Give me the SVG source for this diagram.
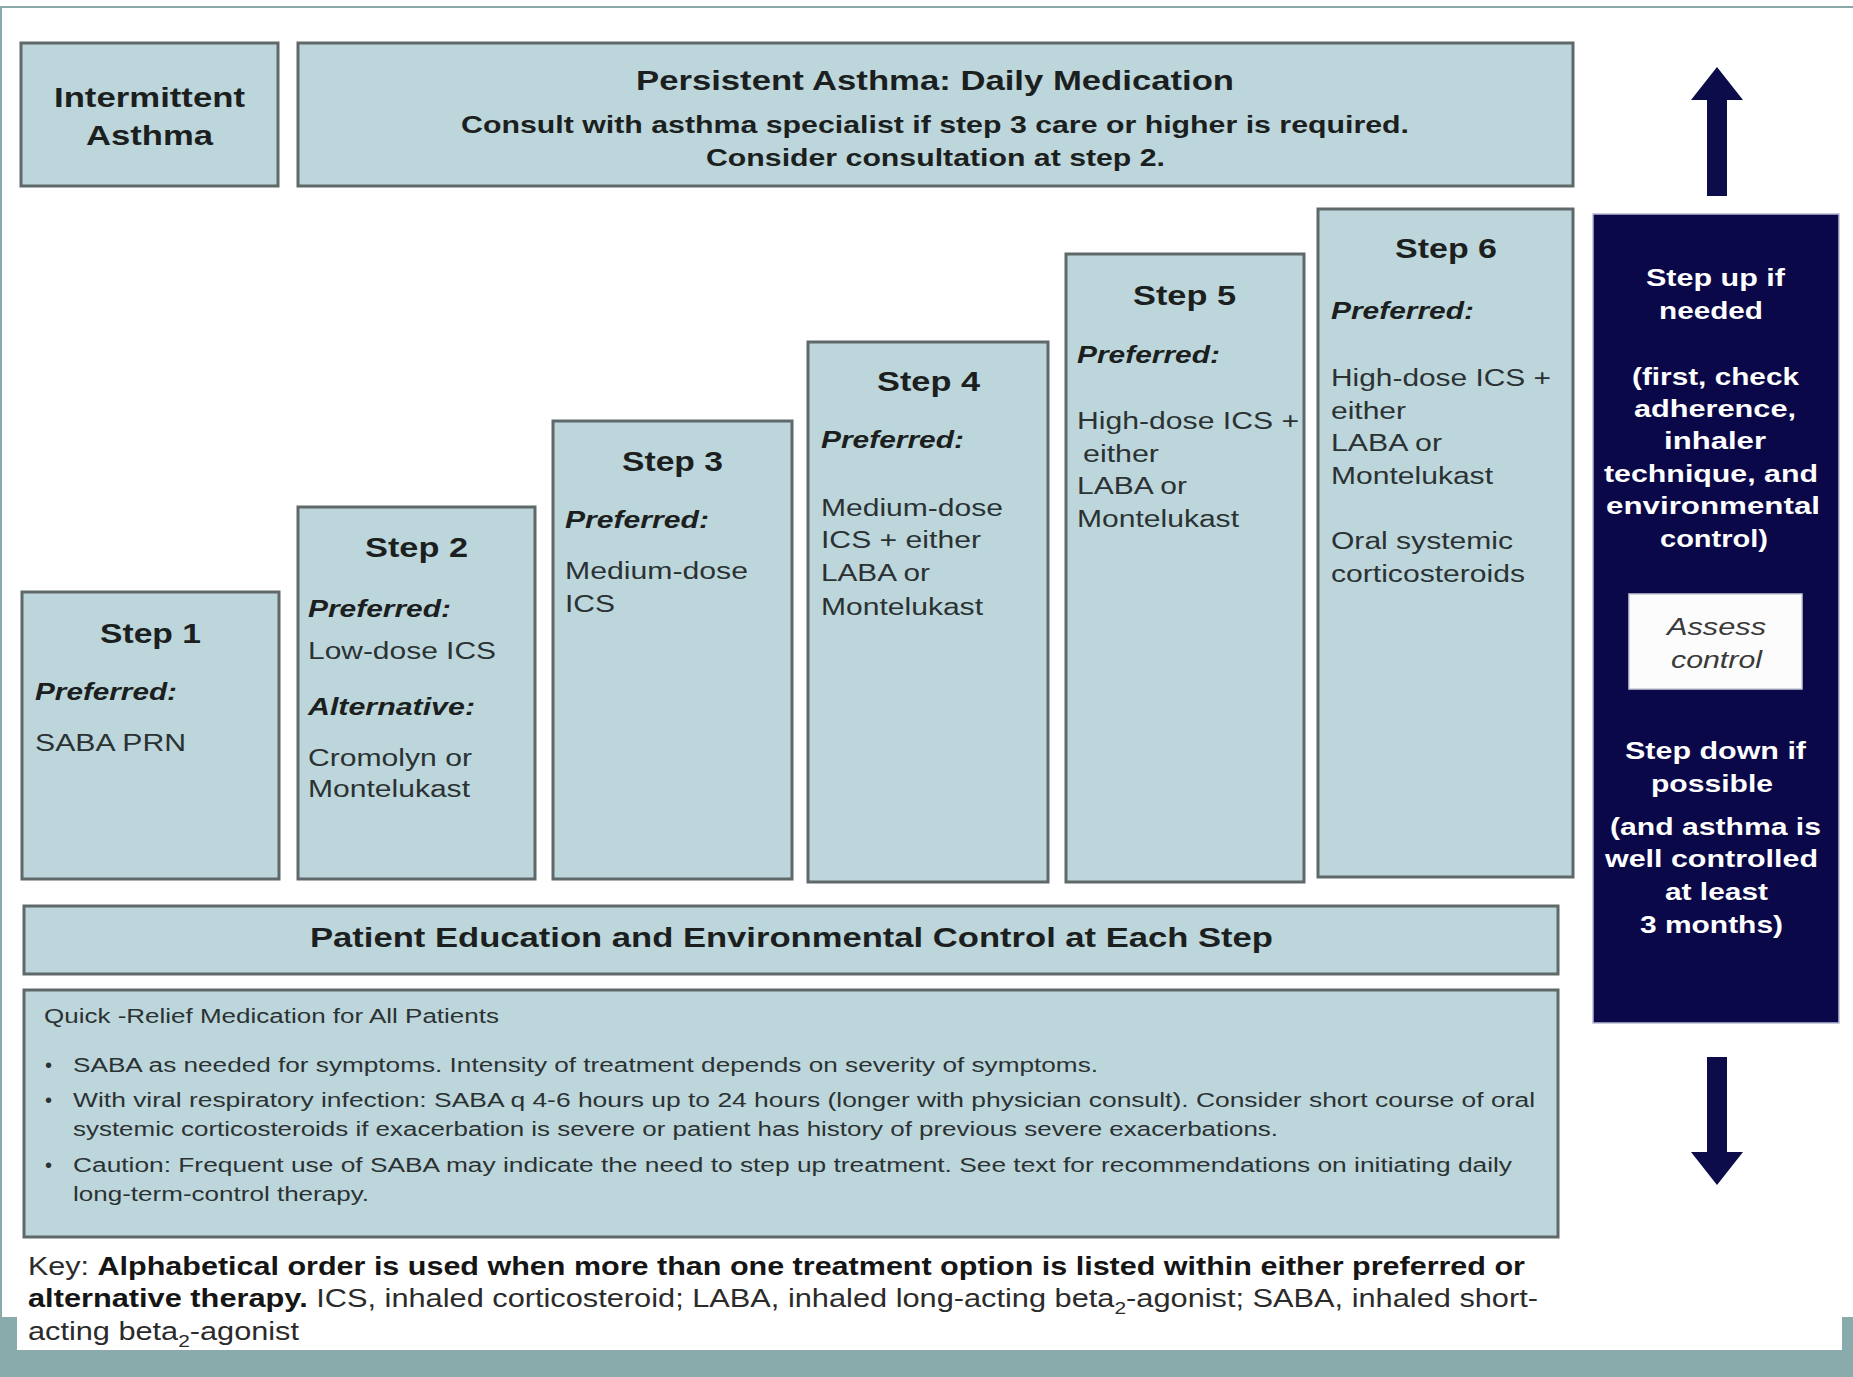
<svg xmlns="http://www.w3.org/2000/svg" width="1853" height="1377" viewBox="0 0 1853 1377">
<style>
text{font-family:"Liberation Sans",Arial,Helvetica,sans-serif;}
.box{fill:#bdd6db;stroke:#5f696a;stroke-width:3;}
.ttl{font-size:27px;font-weight:bold;fill:#1c1f20;}
.sub{font-size:23px;font-weight:bold;fill:#1c1f20;}
.step{font-size:28px;font-weight:bold;fill:#1c1f20;}
.pref{font-size:23px;font-weight:bold;font-style:italic;fill:#1c1f20;}
.body{font-size:23px;fill:#2b3233;}
.qr{font-size:20px;fill:#2b3233;}
.key{font-size:25px;fill:#2b2b2b;}
.nav{font-size:24px;font-weight:bold;fill:#ffffff;}
.asc{font-size:23px;font-style:italic;fill:#3a3a3a;}
.arrow{fill:#0d0c4a;}
</style>
<rect x="0" y="0" width="1853" height="1377" fill="#ffffff"/>
<g id="frame">
<rect x="1" y="7" width="1860" height="1400" fill="none" stroke="#8aa9a9" stroke-width="2"/>
<rect x="0" y="1317" width="17" height="60" fill="#8aabab"/>
<rect x="1842" y="1317" width="11" height="60" fill="#8aabab"/>
<rect x="0" y="1350" width="1853" height="27" fill="#8aabab"/>
</g>

<g id="intermittent">
<rect class="box" x="21" y="43" width="257" height="143"/>
<text class="ttl" x="54" y="107" textLength="191" lengthAdjust="spacingAndGlyphs">Intermittent</text>
<text class="ttl" x="86" y="145" textLength="127" lengthAdjust="spacingAndGlyphs">Asthma</text>
</g>

<g id="persistent">
<rect class="box" x="298" y="43" width="1275" height="143"/>
<text class="ttl" x="636" y="90" textLength="598" lengthAdjust="spacingAndGlyphs">Persistent Asthma: Daily Medication</text>
<text class="sub" x="461" y="133" textLength="948" lengthAdjust="spacingAndGlyphs">Consult with asthma specialist if step 3 care or higher is required.</text>
<text class="sub" x="706" y="166" textLength="459" lengthAdjust="spacingAndGlyphs">Consider consultation at step 2.</text>
</g>

<g id="step1">
<rect class="box" x="22" y="592" width="257" height="287"/>
<text class="step" x="100" y="643" textLength="101" lengthAdjust="spacingAndGlyphs">Step 1</text>
<text class="pref" x="35" y="700" textLength="142" lengthAdjust="spacingAndGlyphs">Preferred:</text>
<text class="body" x="35" y="751" textLength="151" lengthAdjust="spacingAndGlyphs">SABA PRN</text>
</g>

<g id="step2">
<rect class="box" x="298" y="507" width="237" height="372"/>
<text class="step" x="365" y="557" textLength="103" lengthAdjust="spacingAndGlyphs">Step 2</text>
<text class="pref" x="308" y="617" textLength="143" lengthAdjust="spacingAndGlyphs">Preferred:</text>
<text class="body" x="308" y="659" textLength="188" lengthAdjust="spacingAndGlyphs">Low-dose ICS</text>
<text class="pref" x="308" y="715" textLength="167" lengthAdjust="spacingAndGlyphs">Alternative:</text>
<text class="body" x="308" y="766" textLength="164" lengthAdjust="spacingAndGlyphs">Cromolyn or</text>
<text class="body" x="308" y="797" textLength="162" lengthAdjust="spacingAndGlyphs">Montelukast</text>
</g>

<g id="step3">
<rect class="box" x="553" y="421" width="239" height="458"/>
<text class="step" x="622" y="471" textLength="101" lengthAdjust="spacingAndGlyphs">Step 3</text>
<text class="pref" x="565" y="528" textLength="144" lengthAdjust="spacingAndGlyphs">Preferred:</text>
<text class="body" x="565" y="579" textLength="183" lengthAdjust="spacingAndGlyphs">Medium-dose</text>
<text class="body" x="565" y="612" textLength="50" lengthAdjust="spacingAndGlyphs">ICS</text>
</g>

<g id="step4">
<rect class="box" x="808" y="342" width="240" height="540"/>
<text class="step" x="877" y="391" textLength="103" lengthAdjust="spacingAndGlyphs">Step 4</text>
<text class="pref" x="821" y="448" textLength="143" lengthAdjust="spacingAndGlyphs">Preferred:</text>
<text class="body" x="821" y="516" textLength="182" lengthAdjust="spacingAndGlyphs">Medium-dose</text>
<text class="body" x="821" y="548" textLength="160" lengthAdjust="spacingAndGlyphs">ICS + either</text>
<text class="body" x="821" y="581" textLength="109" lengthAdjust="spacingAndGlyphs">LABA or</text>
<text class="body" x="821" y="615" textLength="162" lengthAdjust="spacingAndGlyphs">Montelukast</text>
</g>

<g id="step5">
<rect class="box" x="1066" y="254" width="238" height="628"/>
<text class="step" x="1133" y="305" textLength="103" lengthAdjust="spacingAndGlyphs">Step 5</text>
<text class="pref" x="1077" y="363" textLength="143" lengthAdjust="spacingAndGlyphs">Preferred:</text>
<text class="body" x="1077" y="429" textLength="222" lengthAdjust="spacingAndGlyphs">High-dose ICS +</text>
<text class="body" x="1083" y="462" textLength="76" lengthAdjust="spacingAndGlyphs">either</text>
<text class="body" x="1077" y="494" textLength="110" lengthAdjust="spacingAndGlyphs">LABA or</text>
<text class="body" x="1077" y="527" textLength="162" lengthAdjust="spacingAndGlyphs">Montelukast</text>
</g>

<g id="step6">
<rect class="box" x="1318" y="209" width="255" height="668"/>
<text class="step" x="1395" y="258" textLength="102" lengthAdjust="spacingAndGlyphs">Step 6</text>
<text class="pref" x="1331" y="319" textLength="143" lengthAdjust="spacingAndGlyphs">Preferred:</text>
<text class="body" x="1331" y="386" textLength="220" lengthAdjust="spacingAndGlyphs">High-dose ICS +</text>
<text class="body" x="1331" y="419" textLength="75" lengthAdjust="spacingAndGlyphs">either</text>
<text class="body" x="1331" y="451" textLength="111" lengthAdjust="spacingAndGlyphs">LABA or</text>
<text class="body" x="1331" y="484" textLength="162" lengthAdjust="spacingAndGlyphs">Montelukast</text>
<text class="body" x="1331" y="549" textLength="182" lengthAdjust="spacingAndGlyphs">Oral systemic</text>
<text class="body" x="1331" y="582" textLength="194" lengthAdjust="spacingAndGlyphs">corticosteroids</text>
</g>

<g id="education">
<rect class="box" x="24" y="906" width="1534" height="68"/>
<text class="ttl" x="310" y="947" textLength="963" lengthAdjust="spacingAndGlyphs">Patient Education and Environmental Control at Each Step</text>
</g>

<g id="quick-relief">
<rect class="box" x="24" y="990" width="1534" height="247"/>
<text class="qr" x="44" y="1023" textLength="455" lengthAdjust="spacingAndGlyphs">Quick -Relief Medication for All Patients</text>
<text class="qr" x="45" y="1072">•</text>
<text class="qr" x="73" y="1072" textLength="1025" lengthAdjust="spacingAndGlyphs">SABA as needed for symptoms.  Intensity of treatment depends on severity of symptoms.</text>
<text class="qr" x="45" y="1107">•</text>
<text class="qr" x="73" y="1107" textLength="1462" lengthAdjust="spacingAndGlyphs">With viral respiratory infection:  SABA q 4-6  hours up to 24 hours (longer with physician consult).  Consider short course of oral</text>
<text class="qr" x="73" y="1136" textLength="1205" lengthAdjust="spacingAndGlyphs">systemic corticosteroids if exacerbation is severe or patient has history of previous severe exacerbations.</text>
<text class="qr" x="45" y="1172">•</text>
<text class="qr" x="73" y="1172" textLength="1439" lengthAdjust="spacingAndGlyphs">Caution:  Frequent use of SABA may indicate the need to step up treatment.  See text for recommendations on initiating daily</text>
<text class="qr" x="73" y="1201" textLength="296" lengthAdjust="spacingAndGlyphs">long-term-control therapy.</text>
</g>

<g id="key">
<text class="key" x="28" y="1275" textLength="1497" lengthAdjust="spacingAndGlyphs">Key:  <tspan font-weight="bold" fill="#151515">Alphabetical order is used when more than one treatment option is listed within either preferred or</tspan></text>
<text class="key" x="28" y="1307" textLength="1510" lengthAdjust="spacingAndGlyphs"><tspan font-weight="bold" fill="#151515">alternative therapy.</tspan>  ICS, inhaled  corticosteroid; LABA, inhaled long-acting beta<tspan font-size="17" dy="7">2</tspan><tspan dy="-7">-agonist; SABA, inhaled short-</tspan></text>
<text class="key" x="28" y="1340" textLength="271" lengthAdjust="spacingAndGlyphs">acting beta<tspan font-size="17" dy="7">2</tspan><tspan dy="-7">-agonist</tspan></text>
</g>

<g id="step-panel">
<rect x="1593" y="214" width="246" height="809" fill="#0a0848" stroke="#b8b9d4" stroke-width="1.5"/>
<text class="nav" x="1646" y="286" textLength="139" lengthAdjust="spacingAndGlyphs">Step up if</text>
<text class="nav" x="1659" y="319" textLength="104" lengthAdjust="spacingAndGlyphs">needed</text>
<text class="nav" x="1632" y="385" textLength="167" lengthAdjust="spacingAndGlyphs">(first, check</text>
<text class="nav" x="1634" y="417" textLength="162" lengthAdjust="spacingAndGlyphs">adherence,</text>
<text class="nav" x="1664" y="449" textLength="102" lengthAdjust="spacingAndGlyphs">inhaler</text>
<text class="nav" x="1604" y="482" textLength="214" lengthAdjust="spacingAndGlyphs">technique, and</text>
<text class="nav" x="1606" y="514" textLength="214" lengthAdjust="spacingAndGlyphs">environmental</text>
<text class="nav" x="1660" y="547" textLength="108" lengthAdjust="spacingAndGlyphs">control)</text>
<text class="nav" x="1625" y="759" textLength="181" lengthAdjust="spacingAndGlyphs">Step down if</text>
<text class="nav" x="1651" y="792" textLength="122" lengthAdjust="spacingAndGlyphs">possible</text>
<text class="nav" x="1610" y="835" textLength="211" lengthAdjust="spacingAndGlyphs">(and asthma is</text>
<text class="nav" x="1605" y="867" textLength="213" lengthAdjust="spacingAndGlyphs">well controlled</text>
<text class="nav" x="1665" y="900" textLength="103" lengthAdjust="spacingAndGlyphs">at least</text>
<text class="nav" x="1640" y="933" textLength="143" lengthAdjust="spacingAndGlyphs">3 months)</text>
</g>

<g id="assess-control">
<rect x="1629" y="594" width="173" height="95" fill="#fcfcfd" stroke="#c9c9d6" stroke-width="1.5"/>
<text class="asc" x="1667" y="635" textLength="99" lengthAdjust="spacingAndGlyphs">Assess</text>
<text class="asc" x="1671" y="668" textLength="91" lengthAdjust="spacingAndGlyphs">control</text>
</g>

<g id="connectors">
<polygon class="arrow" points="1717,67 1743,100 1727,100 1727,196 1707,196 1707,100 1691,100"/>
<polygon class="arrow" points="1707,1057 1727,1057 1727,1152 1743,1152 1717,1185 1691,1152 1707,1152"/>
</g>
</svg>
